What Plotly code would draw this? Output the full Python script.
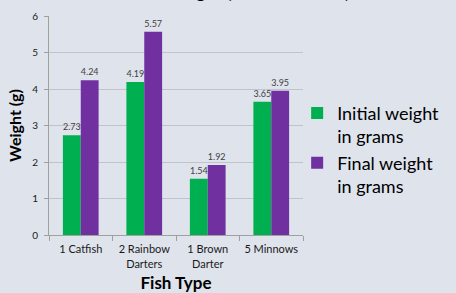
import plotly.graph_objects as go

categories = ["1 Catfish", "2 Rainbow<br>Darters", "1 Brown<br>Darter", "5 Minnows"]
initial_weight = [2.73, 4.19, 1.54, 3.65]
final_weight = [4.24, 5.57, 1.92, 3.95]
series_names = ["Initial weight<br>in grams", "Final weight<br>in grams"]
y_ticks = [0, 1, 2, 3, 4, 5, 6]
chart_title = "Fish Weight (Initial vs. Final)"

FONT = "Lato"
BG = "#dfe3ec"

fig = go.Figure()
fig.add_trace(go.Bar(
    x=categories, y=initial_weight, name=series_names[0],
    marker=dict(color="#00b050", line=dict(width=0)),
    text=[f"{v:.2f}" for v in initial_weight], textposition="outside",
    textfont=dict(size=9, color="#404040", family=FONT), cliponaxis=False,
))
fig.add_trace(go.Bar(
    x=categories, y=final_weight, name=series_names[1],
    marker=dict(color="#7030a0", line=dict(width=0)),
    text=[f"{v:.2f}" for v in final_weight], textposition="outside",
    textfont=dict(size=9, color="#404040", family=FONT), cliponaxis=False,
))

fig.update_layout(
    template="none",
    width=456, height=293,
    paper_bgcolor=BG, plot_bgcolor=BG,
    margin=dict(l=49, r=151, t=16, b=58, pad=0),
    barmode="group", bargap=0.4375, bargroupgap=0,
    font=dict(family=FONT, color="#000000"),
    legend=dict(x=0.977, xanchor="left", y=0.64, yanchor="top",
                font=dict(size=18, family=FONT, color="#000000"),
                bgcolor="rgba(0,0,0,0)", valign="top",
                tracegroupgap=6, itemwidth=30),
    showlegend=True,
    annotations=[dict(
        text=f"<b>{chart_title}</b>", xref="paper", yref="paper",
        x=0.5, y=1, xanchor="center", yanchor="bottom", yshift=12, xshift=62,
        showarrow=False, font=dict(size=18, family=FONT, color="#000000"),
    )],
)
fig.update_xaxes(
    automargin=False,
    showline=True, linecolor="#a0a0a0", linewidth=1,
    ticks="outside", tickson="boundaries", ticklen=5, tickcolor="#a0a0a0",
    ticklabelstandoff=4,
    tickfont=dict(size=11, family=FONT, color="#1a1a1a"),
    title=dict(text="<b>Fish Type</b>", font=dict(size=17, family=FONT, color="#000000"), standoff=12),
    showgrid=False, zeroline=False,
)
fig.update_yaxes(
    automargin=False,
    range=[0, 6], tickvals=y_ticks,
    showline=True, linecolor="#a0a0a0", linewidth=1,
    ticks="outside", ticklen=4, tickcolor="#a0a0a0", ticklabelstandoff=4,
    tickfont=dict(size=10, family=FONT, color="#1a1a1a"),
    showgrid=True, gridcolor="#bfc3cc", gridwidth=1,
    zeroline=False,
    title=dict(text="<b>Weight (g)</b>", font=dict(size=16, family=FONT, color="#000000"), standoff=6),
)

fig.write_html(
    "out.html",
    config={"displayModeBar": False},
    post_script=f"document.body.style.margin='0';document.body.style.background='{BG}';",
)
